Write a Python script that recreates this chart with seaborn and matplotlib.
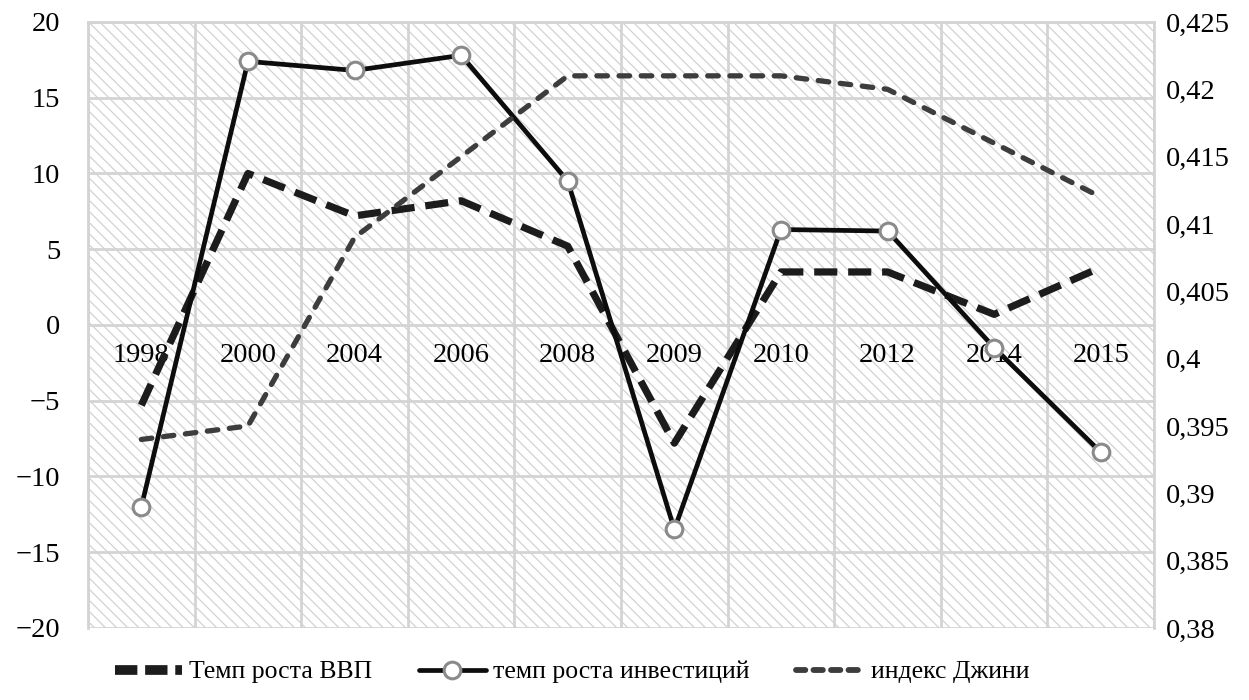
import matplotlib
matplotlib.use("Agg")
import matplotlib.pyplot as plt
import seaborn as sns
import pandas as pd
from matplotlib.lines import Line2D
from matplotlib.ticker import FixedLocator, FuncFormatter

years = ["1998", "2000", "2004", "2006", "2008", "2009", "2010", "2012", "2014", "2015"]
gdp_growth = [-5.3, 10.0, 7.2, 8.2, 5.2, -7.8, 3.5, 3.5, 0.7, 3.8]
invest_growth = [-12.0, 17.4, 16.8, 17.8, 9.5, -13.5, 6.3, 6.2, -1.5, -8.4]
gini = [0.394, 0.395, 0.409, 0.415, 0.421, 0.421, 0.421, 0.420, 0.416, 0.412]

labels = ["Темп роста ВВП", "темп роста инвестиций", "индекс Джини"]

sns.set_theme(style="white")
plt.rcParams["font.family"] = ["Liberation Serif", "DejaVu Serif"]
plt.rcParams["hatch.color"] = "#d2d2d2"
plt.rcParams["hatch.linewidth"] = 0.9
plt.rcParams["text.color"] = "black"
plt.rcParams["xtick.color"] = "black"
plt.rcParams["ytick.color"] = "black"

FS = 20.5

df = pd.DataFrame({"pos": range(len(years)), "gdp": gdp_growth,
                   "inv": invest_growth, "gini": gini})

fig = plt.figure(figsize=(12.49, 7.0), dpi=100)
ax = fig.add_axes([0.0705, 0.1029, 0.8535, 0.8657])
ax.set_facecolor("white")
ax.patch.set_hatch("\\\\\\")
ax.patch.set_edgecolor("#d2d2d2")

grid_c = "#d4d4d4"
ax.set_xlim(-0.5, len(years) - 0.5)
ax.set_ylim(-20, 20)
ax.yaxis.set_major_locator(FixedLocator(list(range(-20, 21, 5))))
ax.yaxis.set_major_formatter(FuncFormatter(lambda v, p: f"{int(v)}".replace("-", "\u2212")))
ax.xaxis.set_major_locator(FixedLocator(list(range(len(years)))))
ax.xaxis.set_major_formatter(FuncFormatter(lambda v, p: years[int(round(v))] if 0 <= int(round(v)) < len(years) else ""))
ax.xaxis.set_minor_locator(FixedLocator([i - 0.5 for i in range(len(years) + 1)]))
ax.grid(False)
ax.grid(True, axis="y", which="major", color=grid_c, linewidth=2.0)
ax.grid(True, axis="x", which="minor", color=grid_c, linewidth=2.0)
ax.tick_params(axis="x", which="both", length=0, pad=13, labelsize=FS, labelcolor="black")
ax.tick_params(axis="y", which="both", length=0, pad=20, labelsize=FS, labelcolor="black")
for s in ["top", "left", "right"]:
    ax.spines[s].set_color(grid_c)
    ax.spines[s].set_linewidth(2.0)
ax.spines["bottom"].set_position(("data", 0))
ax.spines["bottom"].set_visible(False)
ax.set_axisbelow(True)

sns.lineplot(data=df, x="pos", y="gdp", ax=ax, color="#1c1c1c", linewidth=5.2,
             dashes=False, sort=False, legend=False)
ax.lines[-1].set_dashes([3.2, 1.5])
ax.lines[-1].set_dash_capstyle("butt")

sns.lineplot(data=df, x="pos", y="inv", ax=ax, color="#0d0d0d", linewidth=3.4,
             marker="o", markersize=12, markerfacecolor="white",
             markeredgecolor="#8a8a8a", markeredgewidth=2.2, sort=False, legend=False)
ax.set_xlabel("")
ax.set_ylabel("")

ax2 = ax.twinx()
sns.lineplot(data=df, x="pos", y="gini", ax=ax2, color="#3d3d3d", linewidth=3.8,
             sort=False, legend=False)
ax2.lines[-1].set_dashes([2.0, 2.2])
ax2.lines[-1].set_dash_capstyle("round")
ax2.set_ylim(0.38, 0.425)
ax2.yaxis.set_major_locator(FixedLocator([0.38 + 0.005 * i for i in range(10)]))
ax2.yaxis.set_major_formatter(FuncFormatter(lambda v, p: f"{round(v, 3):g}".replace(".", ",")))
ax2.tick_params(axis="y", length=0, pad=8.5, labelsize=FS, labelcolor="black")
ax2.set_ylabel("")
ax2.set_xlabel("")
for s in ax2.spines.values():
    s.set_visible(False)
ax2.set_xlim(-0.5, len(years) - 0.5)

h1 = Line2D([], [], color="#1c1c1c", linewidth=7.0, dashes=[2.3, 0.8], dash_capstyle="butt")
h2 = Line2D([], [], color="#0d0d0d", linewidth=3.4, marker="o", markersize=12,
            markerfacecolor="white", markeredgecolor="#8a8a8a", markeredgewidth=2.2)
h3 = Line2D([], [], color="#3d3d3d", linewidth=4.2, dashes=[1.6, 1.4], dash_capstyle="round")
fig.legend([h1, h2, h3], labels, loc="center", bbox_to_anchor=(0.458, 0.04),
           ncol=3, frameon=False, fontsize=18.5, handlelength=2.6,
           handletextpad=0.3, columnspacing=1.8)

fig.savefig("out.png", dpi=100)
